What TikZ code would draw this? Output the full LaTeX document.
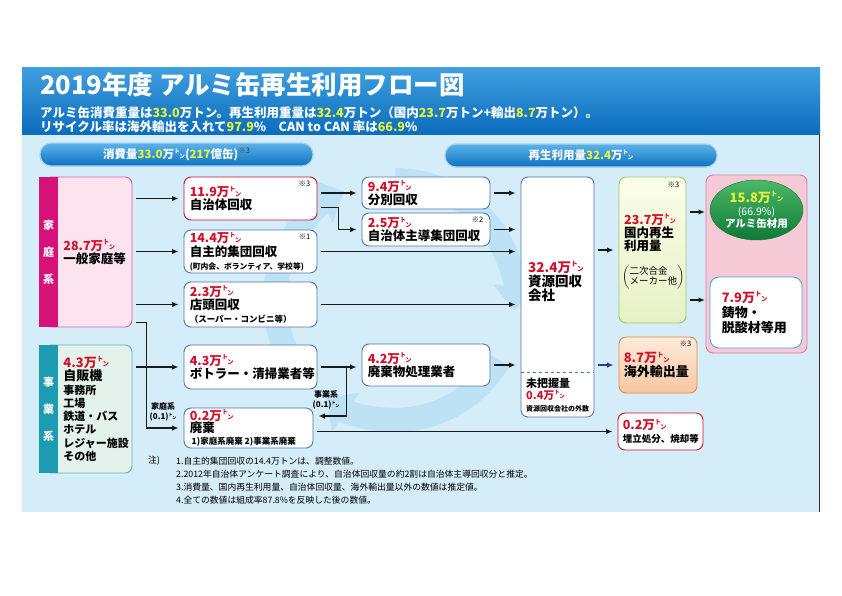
\documentclass[tikz,border=0pt]{standalone}
\usepackage{graphicx}
\usepackage{xcolor}
\usepackage{fontspec}
\setmainfont{Noto Sans CJK JP}
\usetikzlibrary{arrows.meta, positioning, shapes.geometric}

\definecolor{hdrtop}{HTML}{3F9FDF}
\definecolor{hdrbot}{HTML}{0A6CBC}
\definecolor{bodyc}{HTML}{D5ECF9}
\definecolor{ringc}{HTML}{BDE2F6}
\definecolor{boxline}{HTML}{4F79A8}
\definecolor{numred}{HTML}{D0112B}
\definecolor{ylw}{HTML}{E8F23C}
\definecolor{kstrip}{HTML}{D6127A}
\definecolor{kfill}{HTML}{FBE3EF}
\definecolor{kline}{HTML}{E0609A}
\definecolor{jstrip}{HTML}{1D9BB0}
\definecolor{jfill}{HTML}{E3F2EA}
\definecolor{jline}{HTML}{5FB5C0}
\definecolor{gline}{HTML}{9BC860}
\definecolor{gtop}{HTML}{FBFDEA}
\definecolor{gbot}{HTML}{E6F1C6}
\definecolor{oline}{HTML}{E58A4A}
\definecolor{otop}{HTML}{FDEBDB}
\definecolor{obot}{HTML}{F6C6A0}
\definecolor{rfill}{HTML}{F6C9D7}
\definecolor{rline}{HTML}{E07AA6}
\definecolor{eltop}{HTML}{4DB868}
\definecolor{elbot}{HTML}{0E7A36}
\definecolor{iline}{HTML}{4AA6DC}
\definecolor{redline}{HTML}{C8102E}
\definecolor{arrowc}{HTML}{1A1A1A}
\definecolor{navy}{HTML}{1F3F8F}
\definecolor{pilltop}{HTML}{5DB3E8}
\definecolor{pillbot}{HTML}{0D72C0}
\definecolor{pilledge}{HTML}{A8D4F0}

\newcommand\tn{\raisebox{0.45em}{\scalebox{0.5}{ト}}\kern-0.05em\raisebox{0.05em}{\scalebox{0.5}{ン}}}
\newcommand\rn[1]{{\color{numred}#1}}
\newcommand\yn[1]{{\color{ylw}#1}}
\newcommand\kome[1]{{\mdseries\fontsize{7.5}{8}\selectfont ※#1}}

\tikzset{
  box/.style={draw=boxline, fill=white, rounded corners=7pt, line width=0.9pt, inner sep=0pt},
  txt/.style={align=left, inner sep=0pt, anchor=west, font=\bfseries\fontsize{12.5}{13.2}\selectfont},
  strip/.style={minimum width=19, inner sep=0pt, text=white, align=center, font=\bfseries\fontsize{11}{27}\selectfont},
  flow/.style={-{Latex[length=6.5pt,width=5.5pt]}, line width=1.7pt, draw=arrowc, shorten <=4pt, shorten >=5pt},
  pill/.style={rounded corners=11pt, top color=pilltop, bottom color=pillbot, draw=pilledge, line width=1.2pt, text=white, minimum height=23, inner sep=0pt, font=\bfseries\fontsize{11.5}{12}\selectfont},
  note/.style={anchor=north east, inner sep=0pt},
  lbl/.style={align=center, inner sep=0pt, font=\bfseries\fontsize{8}{10}\selectfont},
  bgring/.style={draw=ringc, line width=24pt, -{Triangle[width=46pt,length=24pt]}}
}

\begin{document}
\begin{tikzpicture}[x=1pt, y=-1pt]
  \useasboundingbox (0,0) rectangle (842,595);
  \fill[white] (0,0) rectangle (842,595);
  \shade[top color=hdrtop, bottom color=hdrbot] (22,67) rectangle (820,135);
  \fill[bodyc] (22,135) rectangle (820,512);
  \draw[gray!40!black, line width=0.6pt] (819.5,135) -- (819.5,512);
  \draw[bgring] (395,300) ++(150:120) arc[start angle=150, end angle=245, radius=120];
  \draw[bgring] (395,300) ++(270:120) arc[start angle=270, end angle=365, radius=120];
  \draw[bgring] (395,300) ++(30:120) arc[start angle=30, end angle=125, radius=120];

  \node[anchor=west, inner sep=0pt, text=white, font=\bfseries\fontsize{25.5}{26}\selectfont] (title) at (40,85) {2019年度 アルミ缶再生利用フロー図};
  \node[anchor=west, inner sep=0pt, text=white, align=left, font=\bfseries\fontsize{12.5}{14}\selectfont] (lead) at (40,120)
    {アルミ缶消費重量は\yn{33.0}万トン。再生利用重量は\yn{32.4}万トン（国内\yn{23.7}万トン+輸出\yn{8.7}万トン）。\\
     リサイクル率は海外輸出を入れて\yn{97.9}\%\quad CAN to CAN 率は\yn{66.9}\%};

  \node[pill, minimum width=273] (shohi) at (176.5,154.5) {消費量\yn{33.0}万\tn(\yn{217}億缶)\raisebox{0.5em}{\color{black!75}\kome3}};
  \node[pill, minimum width=272] (saisei) at (581,155.5) {再生利用量\yn{32.4}万\tn};

  \node[box, draw=kline, fill=kfill, minimum width=88, minimum height=150] (katei) at (88,252) {};
  \node[strip, fill=kstrip, minimum height=150] (katei-s) at (48.5,252) {家\\庭\\系};
  \node[txt, right=5pt of katei-s.east] (katei-t) {\rn{28.7万\tn}\\一般家庭等};

  \node[box, draw=jline, fill=jfill, minimum width=88, minimum height=128] (jigyo) at (88,409) {};
  \node[strip, fill=jstrip, minimum height=128] (jigyo-s) at (48.5,409) {事\\業\\系};
  \node[txt, right=5pt of jigyo-s.east, font=\bfseries\fontsize{11}{13.3}\selectfont] (jigyo-t)
    {{\fontsize{13}{13}\selectfont\rn{4.3万\tn}}\\{\fontsize{13}{13}\selectfont 自販機}\\事務所\\工場\\鉄道・バス\\ホテル\\レジャー施設\\その他};

  \node[box, draw=redline, minimum width=133, minimum height=43] (jichi) at (250.5,198.5) {};
  \node[txt, right=6pt of jichi.west] (jichi-t) {\rn{11.9万\tn}\\自治体回収};
  \node[note] (jichi-n) at ([xshift=-7pt,yshift=-4pt]jichi.north east) {\kome3};

  \node[box, minimum width=133, minimum height=43] (jishu) at (250.5,251.5) {};
  \node[txt, right=6pt of jishu.west] (jishu-t) {\rn{14.4万\tn}\\自主的集団回収\\{\fontsize{7.8}{9}\selectfont (町内会、ボランティア、学校等)}};
  \node[note] (jishu-n) at ([xshift=-7pt,yshift=-4pt]jishu.north east) {\kome1};

  \node[box, minimum width=133, minimum height=45] (tento) at (250.5,304.5) {};
  \node[txt, right=6pt of tento.west] (tento-t) {\rn{2.3万\tn}\\店頭回収\\{\fontsize{8.5}{9}\selectfont （スーパー・コンビニ等）}};

  \node[box, minimum width=133, minimum height=44] (bottler) at (250.5,367) {};
  \node[txt, right=6pt of bottler.west] (bottler-t) {\rn{4.3万\tn}\\ボトラー・清掃業者等};

  \node[box, minimum width=129, minimum height=40] (haiki) at (248.5,428) {};
  \node[txt, right=6pt of haiki.west, font=\bfseries\fontsize{12.5}{12.3}\selectfont] (haiki-t) {\rn{0.2万\tn}\\廃棄\\{\fontsize{8.5}{9}\selectfont\ 1)家庭系廃棄 2)事業系廃棄}};

  \node[box, minimum width=128, minimum height=32] (bunbetsu) at (426,193) {};
  \node[txt, right=6pt of bunbetsu.west] (bunbetsu-t) {\rn{9.4万\tn}\\分別回収};

  \node[box, minimum width=128, minimum height=33] (shudo) at (426,229.5) {};
  \node[txt, right=6pt of shudo.west] (shudo-t) {\rn{2.5万\tn}\\自治体主導集団回収};
  \node[note] (shudo-n) at ([xshift=-7pt,yshift=-4pt]shudo.north east) {\kome2};

  \node[box, minimum width=128, minimum height=42] (shori) at (426,365) {};
  \node[txt, right=6pt of shori.west] (shori-t) {\rn{4.2万\tn}\\廃棄物処理業者};

  \node[box, minimum width=73, minimum height=240] (shigen) at (557.5,297) {};
  \coordinate (dash-l) at (521,372);
  \coordinate (dash-r) at (594,372);
  \draw[boxline, dashed, line width=0.6pt] (dash-l) -- (dash-r);
  \node[txt, font=\bfseries\fontsize{13.5}{14.2}\selectfont] (shigen-t) at (528,281.5) {\rn{32.4万\tn}\\資源回収\\会社};
  \node[txt, font=\bfseries\fontsize{11}{12}\selectfont] (mihaaku-t) at (526,395) {未把握量\\\rn{0.4万\tn}\\{\fontsize{7}{8}\selectfont 資源回収会社の外数}};

  \node[box, draw=gline, top color=gtop, bottom color=gbot, minimum width=67, minimum height=146] (kokunai) at (652.5,250) {};
  \node[txt] (kokunai-t) at (624,233) {\rn{23.7万\tn}\\国内再生\\利用量};
  \node[txt, font=\mdseries] (kokunai-p) at (622,277)
    {$\left(\vcenter{\hbox{\fontsize{9.5}{10}\selectfont\renewcommand\arraystretch{0.9}\begin{tabular}{@{}l@{}}二次合金\\メーカー他\end{tabular}}}\right)$};
  \node[note] (kokunai-n) at ([xshift=-7pt,yshift=-5pt]kokunai.north east) {\kome3};

  \node[box, draw=oline, top color=otop, bottom color=obot, minimum width=78, minimum height=56] (kaigai) at (658,365) {};
  \node[txt, right=5pt of kaigai.west, font=\bfseries\fontsize{13}{14}\selectfont] (kaigai-t) {\rn{8.7万\tn}\\海外輸出量};
  \node[note] (kaigai-n) at ([xshift=-6pt,yshift=-4pt]kaigai.north east) {\kome3};

  \node[box, draw=redline, minimum width=85, minimum height=37] (umetate) at (660.5,431.5) {};
  \node[txt, right=5pt of umetate.west] (umetate-t) {\rn{0.2万\tn}\\{\fontsize{9.5}{10}\selectfont 埋立処分、焼却等}};

  \node[box, draw=rline, fill=rfill, minimum width=101, minimum height=178] (riyo) at (756.5,264) {};
  \node[ellipse, draw=elbot, top color=eltop, bottom color=elbot, minimum width=93, minimum height=60, inner sep=0pt] (alumi) at (756.5,210) {};
  \node[align=center, inner sep=0pt, text=white, font=\bfseries\fontsize{10.5}{12.5}\selectfont] (alumi-t) at (alumi)
    {{\fontsize{13}{13}\selectfont\yn{15.8万\tn}}\\{\mdseries (66.9\%)}\\アルミ缶材用};
  \node[box, draw=iline, minimum width=92, minimum height=71, rounded corners=9pt] (imono) at (756,312.5) {};
  \node[txt, right=12pt of imono.west, font=\bfseries\fontsize{13}{15}\selectfont] (imono-t) {\rn{7.9万\tn}\\鋳物・\\脱酸材等用};

  \node[lbl] (katei-l) at (163,412) {家庭系\\(0.1)\tn};
  \node[lbl] (jigyo-l) at (326,400) {事業系\\(0.1)\tn};

  \node[anchor=west, inner sep=0pt, font=\fontsize{8.8}{13}\selectfont] (chu) at (148,461) {注)};
  \node[anchor=west, align=left, inner sep=0pt, font=\fontsize{8.8}{13}\selectfont] (notes) at (176,480.5)
    {1.自主的集団回収の14.4万トンは、調整数値。\\
     2.2012年自治体アンケート調査により、自治体回収量の約2割は自治体主導回収分と推定。\\
     3.消費量、国内再生利用量、自治体回収量、海外輸出量以外の数値は推定値。\\
     4.全ての数値は組成率87.8\%を反映した後の数値。};

  \coordinate (alu-in) at (706,212);
  \coordinate (imo-in) at (706,300);

  \draw[flow] (katei.east |- jichi) -- (jichi);
  \draw[flow] (katei.east |- jishu) -- (jishu);
  \draw[flow] (katei.east |- tento) -- (tento);
  \draw[flow] ([yshift=5pt]katei.south east) -- ++(14,0) |- (haiki);
  \draw[flow] (jigyo.east |- bottler) -- (bottler);
  \draw[flow] (jichi.east |- bunbetsu) -- (bunbetsu);
  \draw[flow] ([yshift=-9pt]jichi.east) -- ++(21,0) |- (shudo);
  \draw[flow] (bunbetsu.east) -- (bunbetsu.east -| shigen.west);
  \draw[flow] (shudo.east) -- (shudo.east -| shigen.west);
  \draw[flow] (jishu.east) -- (jishu.east -| shigen.west);
  \draw[flow] (tento.east) -- (tento.east -| shigen.west);
  \draw[flow] (bottler.east) -- (bottler.east -| shori.west);
  \draw[flow, shorten <=0pt] ([xshift=29pt]bottler.east) |- ([yshift=12pt]haiki.east);
  \draw[flow] (shori.east) -- (shori.east -| shigen.west);
  \draw[flow] (haiki.east |- umetate) -- (umetate);
  \draw[flow] (shigen.east |- kokunai) -- (kokunai);
  \draw[flow, draw=navy] (shigen.east |- kaigai) -- (kaigai);
  \draw[flow, shorten >=1pt] (kokunai.east |- alu-in) -- (alu-in);
  \draw[flow, shorten >=1pt] (kokunai.east |- imo-in) -- (imo-in);
\end{tikzpicture}
\end{document}
